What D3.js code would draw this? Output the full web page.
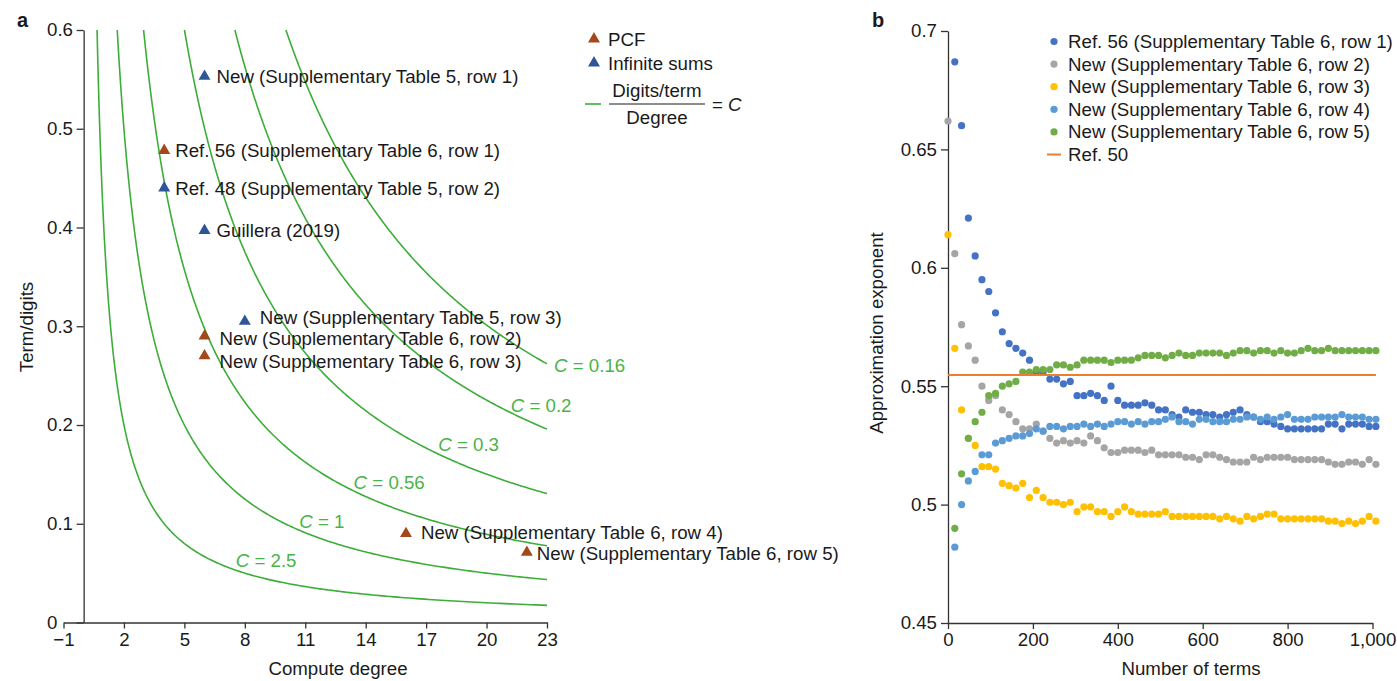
<!DOCTYPE html>
<html>
<head>
<meta charset="utf-8">
<script src="https://cdn.jsdelivr.net/npm/d3@7"></script>
<style>
  body { margin: 0; background: #fff; }
  svg text { font-family: "Liberation Sans", Arial, Helvetica, sans-serif; fill: #1a1a1a; }
  .axis path, .axis line { stroke: #333; stroke-width: 1.3; }
  .axis text { font-size: 18.7px; fill: #1a1a1a; }
</style>
</head>
<body>
<svg id="chart" width="1397" height="681"></svg>
<script>
// ---------- panel a data ----------
var pointNames = ['New (Supplementary Table 5, row 1)', 'Ref. 56 (Supplementary Table 6, row 1)',
    'Ref. 48 (Supplementary Table 5, row 2)', 'Guillera (2019)', 'New (Supplementary Table 5, row 3)',
    'New (Supplementary Table 6, row 2)', 'New (Supplementary Table 6, row 3)',
    'New (Supplementary Table 6, row 4)', 'New (Supplementary Table 6, row 5)'];
var pointDegree = [6, 4, 4, 6, 8, 6, 6, 16, 22];
var pointTermDigits = [0.553, 0.478, 0.44, 0.397, 0.305, 0.29, 0.27, 0.09, 0.071];
var pointType = ['sum', 'pcf', 'sum', 'sum', 'sum', 'pcf', 'pcf', 'pcf', 'pcf'];

var curveC = [2.5, 1, 0.56, 0.333, 0.222, 0.166];
var curveLabels = ['2.5', '1', '0.56', '0.3', '0.2', '0.16'];

var degreeTicks = [-1, 2, 5, 8, 11, 14, 17, 20, 23];
var termTicks = [0, 0.1, 0.2, 0.3, 0.4, 0.5, 0.6];

// ---------- panel b data ----------
var nTerms = [0, 16, 32, 48, 64, 80, 96, 112, 128, 144, 160, 176, 192, 208, 224, 240,
    256, 272, 288, 304, 320, 336, 352, 368, 384, 400, 416, 432, 448, 464, 480, 496,
    512, 528, 544, 560, 576, 592, 608, 624, 640, 656, 672, 688, 704, 720, 736, 752,
    768, 784, 800, 816, 832, 848, 864, 880, 896, 912, 928, 944, 960, 976, 992, 1008];

var seriesNames = ['Ref. 56 (Supplementary Table 6, row 1)', 'New (Supplementary Table 6, row 2)',
    'New (Supplementary Table 6, row 3)', 'New (Supplementary Table 6, row 4)',
    'New (Supplementary Table 6, row 5)'];
var seriesColors = ['#4472c4', '#a5a5a5', '#ffc000', '#5b9bd5', '#70ad47'];

var ref56 = [null, 0.687, 0.660, 0.621, 0.605, 0.595, 0.590, 0.581, 0.573, 0.568, 0.566, 0.564, 0.561, 0.556, 0.556, 0.553,
    0.553, 0.551, 0.552, 0.546, 0.546, 0.547, 0.546, 0.544, 0.550, 0.544, 0.542, 0.542, 0.542, 0.543, 0.542, 0.540,
    0.540, 0.538, 0.537, 0.540, 0.539, 0.539, 0.538, 0.538, 0.537, 0.538, 0.539, 0.540, 0.538, 0.537, 0.535, 0.535,
    0.534, 0.533, 0.532, 0.532, 0.532, 0.532, 0.532, 0.532, 0.534, 0.534, 0.532, 0.534, 0.534, 0.534, 0.533, 0.533];
var row2 = [0.662, 0.606, 0.576, 0.567, 0.561, 0.550, 0.544, 0.546, 0.540, 0.538, 0.535, 0.532, 0.532, 0.534, 0.531, 0.528,
    0.526, 0.527, 0.526, 0.527, 0.526, 0.529, 0.527, 0.524, 0.522, 0.522, 0.523, 0.523, 0.523, 0.522, 0.523, 0.521,
    0.521, 0.521, 0.521, 0.520, 0.520, 0.519, 0.521, 0.521, 0.520, 0.519, 0.518, 0.518, 0.518, 0.520, 0.519, 0.520,
    0.520, 0.520, 0.520, 0.519, 0.519, 0.519, 0.519, 0.519, 0.518, 0.517, 0.517, 0.518, 0.518, 0.517, 0.519, 0.517];
var row3 = [0.614, 0.566, 0.540, 0.528, 0.525, 0.516, 0.516, 0.515, 0.509, 0.508, 0.507, 0.509, 0.503, 0.506, 0.503, 0.501,
    0.501, 0.500, 0.501, 0.497, 0.499, 0.499, 0.497, 0.497, 0.495, 0.497, 0.499, 0.497, 0.496, 0.496, 0.496, 0.496,
    0.497, 0.495, 0.495, 0.495, 0.495, 0.495, 0.495, 0.495, 0.494, 0.495, 0.494, 0.493, 0.495, 0.494, 0.495, 0.496,
    0.496, 0.494, 0.494, 0.494, 0.494, 0.494, 0.494, 0.494, 0.493, 0.493, 0.492, 0.493, 0.492, 0.493, 0.495, 0.493];
var row4 = [null, 0.482, 0.500, 0.510, 0.514, 0.521, 0.521, 0.526, 0.527, 0.528, 0.529, 0.529, 0.530, 0.532, 0.531, 0.533,
    0.533, 0.532, 0.533, 0.533, 0.534, 0.533, 0.534, 0.533, 0.534, 0.535, 0.535, 0.534, 0.535, 0.534, 0.535, 0.535,
    0.536, 0.537, 0.535, 0.535, 0.534, 0.536, 0.536, 0.535, 0.535, 0.535, 0.536, 0.536, 0.537, 0.537, 0.536, 0.537,
    0.536, 0.537, 0.538, 0.536, 0.536, 0.536, 0.537, 0.537, 0.537, 0.537, 0.538, 0.537, 0.537, 0.537, 0.536, 0.536];
var row5 = [null, 0.490, 0.513, 0.528, 0.535, 0.539, 0.546, 0.547, 0.550, 0.551, 0.552, 0.556, 0.556, 0.557, 0.557, 0.557,
    0.559, 0.559, 0.558, 0.559, 0.561, 0.561, 0.561, 0.561, 0.560, 0.561, 0.561, 0.561, 0.562, 0.563, 0.563, 0.563,
    0.562, 0.563, 0.564, 0.563, 0.563, 0.564, 0.564, 0.564, 0.564, 0.563, 0.564, 0.565, 0.565, 0.564, 0.565, 0.565,
    0.564, 0.565, 0.564, 0.564, 0.565, 0.566, 0.565, 0.565, 0.566, 0.565, 0.565, 0.565, 0.565, 0.565, 0.565, 0.565];
var ref50 = 0.5547;

var termsTicks = [0, 200, 400, 600, 800, 1000];
var exponentTicks = [0.45, 0.5, 0.55, 0.6, 0.65, 0.7];

var pcfColor = '#a3481b', sumColor = '#2e5597', curveColor = '#3dad3a';
var fontSize = '18.7px';

var svg = d3.select('#chart');

// ================= panel a =================
var xA = d3.scaleLinear().domain([-1, 23]).range([63.5, 547]);
var yA = d3.scaleLinear().domain([0, 0.6]).range([622.5, 30]);

svg.append('text').attr('x', 17).attr('y', 27)
    .style('font-size', '20px').style('font-weight', 'bold').text('a');

// C curves: term/digits = 1 / (C * degree)
var curveLine = d3.line().x(d => xA(d[0])).y(d => yA(d[1]));
curveC.forEach(function(c) {
    var x0 = 1 / (c * 0.6);
    var pts = d3.range(0, 301).map(function(j) {
        var x = x0 * Math.pow(23 / x0, j / 300);
        return [x, 1 / (c * x)];
    });
    svg.append('path').attr('d', curveLine(pts))
        .attr('fill', 'none').attr('stroke', curveColor).attr('stroke-width', 1.6);
});

// curve labels, placed just above each curve
var labelX = [7.55, 10.7, 13.4, 17.6, 21.2, 23.35];
var labelDy = [-10, -9, -9, -10, -8, -3];
curveC.forEach(function(c, i) {
    var t = svg.append('text')
        .attr('x', xA(labelX[i]))
        .attr('y', yA(1 / (c * labelX[i])) + labelDy[i])
        .attr('dominant-baseline', 'central')
        .style('font-size', fontSize).style('fill', '#4ab347');
    t.append('tspan').style('font-style', 'italic').style('fill', '#4ab347').text('C');
    t.append('tspan').style('fill', '#4ab347').text(' = ' + curveLabels[i]);
});

// axes
svg.append('g').attr('class', 'axis')
    .attr('transform', 'translate(0,' + yA(0) + ')')
    .call(d3.axisBottom(xA).tickValues(degreeTicks).tickSize(6).tickSizeOuter(0).tickPadding(4));
svg.append('g').attr('class', 'axis')
    .attr('transform', 'translate(' + xA(0) + ',0)')
    .call(d3.axisLeft(yA).tickValues(termTicks).tickFormat(d3.format('~g')).tickSize(7).tickSizeOuter(0).tickPadding(4))
    .selectAll('.tick text')
    .attr('x', 47 - xA(0))
    .style('text-anchor', 'start');

svg.append('text').attr('x', 338).attr('y', 675).attr('text-anchor', 'middle')
    .style('font-size', fontSize).text('Compute degree');
svg.append('text').attr('transform', 'translate(33,327) rotate(-90)').attr('text-anchor', 'middle')
    .style('font-size', fontSize).text('Term/digits');

// triangles + labels
var tri = d3.symbol().type(d3.symbolTriangle).size(62);
var labelNudge = [[12, 0], [11, 0], [11, 0], [12, 0], [15, -4], [15, 2], [15, 6], [15, -1], [10, 1]];
var pointsA = pointNames.map((n, i) => ({name: n, x: pointDegree[i], y: pointTermDigits[i], type: pointType[i], nudge: labelNudge[i]}));

svg.selectAll('.tri').data(pointsA).enter().append('path')
    .attr('class', 'tri')
    .attr('d', tri)
    .attr('transform', d => 'translate(' + xA(d.x) + ',' + yA(d.y) + ')')
    .attr('fill', d => d.type === 'pcf' ? pcfColor : sumColor);

svg.selectAll('.plabel').data(pointsA).enter().append('text')
    .attr('class', 'plabel')
    .attr('x', d => xA(d.x) + d.nudge[0])
    .attr('y', d => yA(d.y) + d.nudge[1])
    .attr('dominant-baseline', 'central')
    .style('font-size', fontSize)
    .text(d => d.name);

// legend a
var legA = svg.append('g');
legA.append('path').attr('d', tri).attr('transform', 'translate(594,39)').attr('fill', pcfColor);
legA.append('text').attr('x', 608).attr('y', 39).attr('dominant-baseline', 'central').style('font-size', fontSize).text('PCF');
legA.append('path').attr('d', tri).attr('transform', 'translate(594,63)').attr('fill', sumColor);
legA.append('text').attr('x', 608).attr('y', 63).attr('dominant-baseline', 'central').style('font-size', fontSize).text('Infinite sums');
legA.append('line').attr('x1', 585).attr('x2', 601).attr('y1', 104).attr('y2', 104)
    .attr('stroke', curveColor).attr('stroke-width', 1.6);
legA.append('text').attr('x', 657).attr('y', 90).attr('text-anchor', 'middle').attr('dominant-baseline', 'central')
    .style('font-size', fontSize).text('Digits/term');
legA.append('line').attr('x1', 609).attr('x2', 705).attr('y1', 104).attr('y2', 104)
    .attr('stroke', '#1a1a1a').attr('stroke-width', 1.2);
legA.append('text').attr('x', 657).attr('y', 117).attr('text-anchor', 'middle').attr('dominant-baseline', 'central')
    .style('font-size', fontSize).text('Degree');
var eqC = legA.append('text').attr('x', 712).attr('y', 104).attr('dominant-baseline', 'central').style('font-size', fontSize);
eqC.append('tspan').text('= ');
eqC.append('tspan').style('font-style', 'italic').text('C');

// ================= panel b =================
var xB = d3.scaleLinear().domain([0, 1000]).range([948, 1372.5]);
var yB = d3.scaleLinear().domain([0.45, 0.7]).range([623, 31]);

svg.append('text').attr('x', 872).attr('y', 27)
    .style('font-size', '20px').style('font-weight', 'bold').text('b');

svg.append('g').attr('class', 'axis')
    .attr('transform', 'translate(0,' + yB(0.45) + ')')
    .call(d3.axisBottom(xB).tickValues(termsTicks).tickFormat(d3.format(',')).tickSize(6).tickSizeOuter(0).tickPadding(4));
svg.append('g').attr('class', 'axis')
    .attr('transform', 'translate(' + xB(0) + ',0)')
    .call(d3.axisLeft(yB).tickValues(exponentTicks).tickFormat(d3.format('~g')).tickSize(7).tickSizeOuter(0).tickPadding(4));

svg.append('text').attr('x', 1191).attr('y', 675).attr('text-anchor', 'middle')
    .style('font-size', fontSize).text('Number of terms');
svg.append('text').attr('transform', 'translate(883,333) rotate(-90)').attr('text-anchor', 'middle')
    .style('font-size', fontSize).text('Approximation exponent');

var allSeries = [ref56, row2, row3, row4, row5];
allSeries.forEach(function(vals, s) {
    var pts = nTerms.map((n, i) => ({n: n, v: vals[i]})).filter(d => d.v !== null);
    svg.append('g').selectAll('circle').data(pts).enter().append('circle')
        .attr('cx', d => xB(d.n))
        .attr('cy', d => yB(d.v))
        .attr('r', 3.6)
        .attr('fill', seriesColors[s]);
});

svg.append('line')
    .attr('x1', xB(nTerms[0])).attr('x2', xB(nTerms[nTerms.length - 1]))
    .attr('y1', yB(ref50)).attr('y2', yB(ref50))
    .attr('stroke', '#ed7d31').attr('stroke-width', 2);

// legend b
var legB = svg.append('g');
seriesNames.forEach(function(name, i) {
    var y = 41.5 + i * 22.6;
    legB.append('circle').attr('cx', 1054).attr('cy', y).attr('r', 3.6).attr('fill', seriesColors[i]);
    legB.append('text').attr('x', 1068).attr('y', y).attr('dominant-baseline', 'central')
        .style('font-size', fontSize).text(name);
});
legB.append('line').attr('x1', 1047).attr('x2', 1061).attr('y1', 154.5).attr('y2', 154.5)
    .attr('stroke', '#ed7d31').attr('stroke-width', 2);
legB.append('text').attr('x', 1068).attr('y', 154.5).attr('dominant-baseline', 'central')
    .style('font-size', fontSize).text('Ref. 50');
</script>
</body>
</html>
